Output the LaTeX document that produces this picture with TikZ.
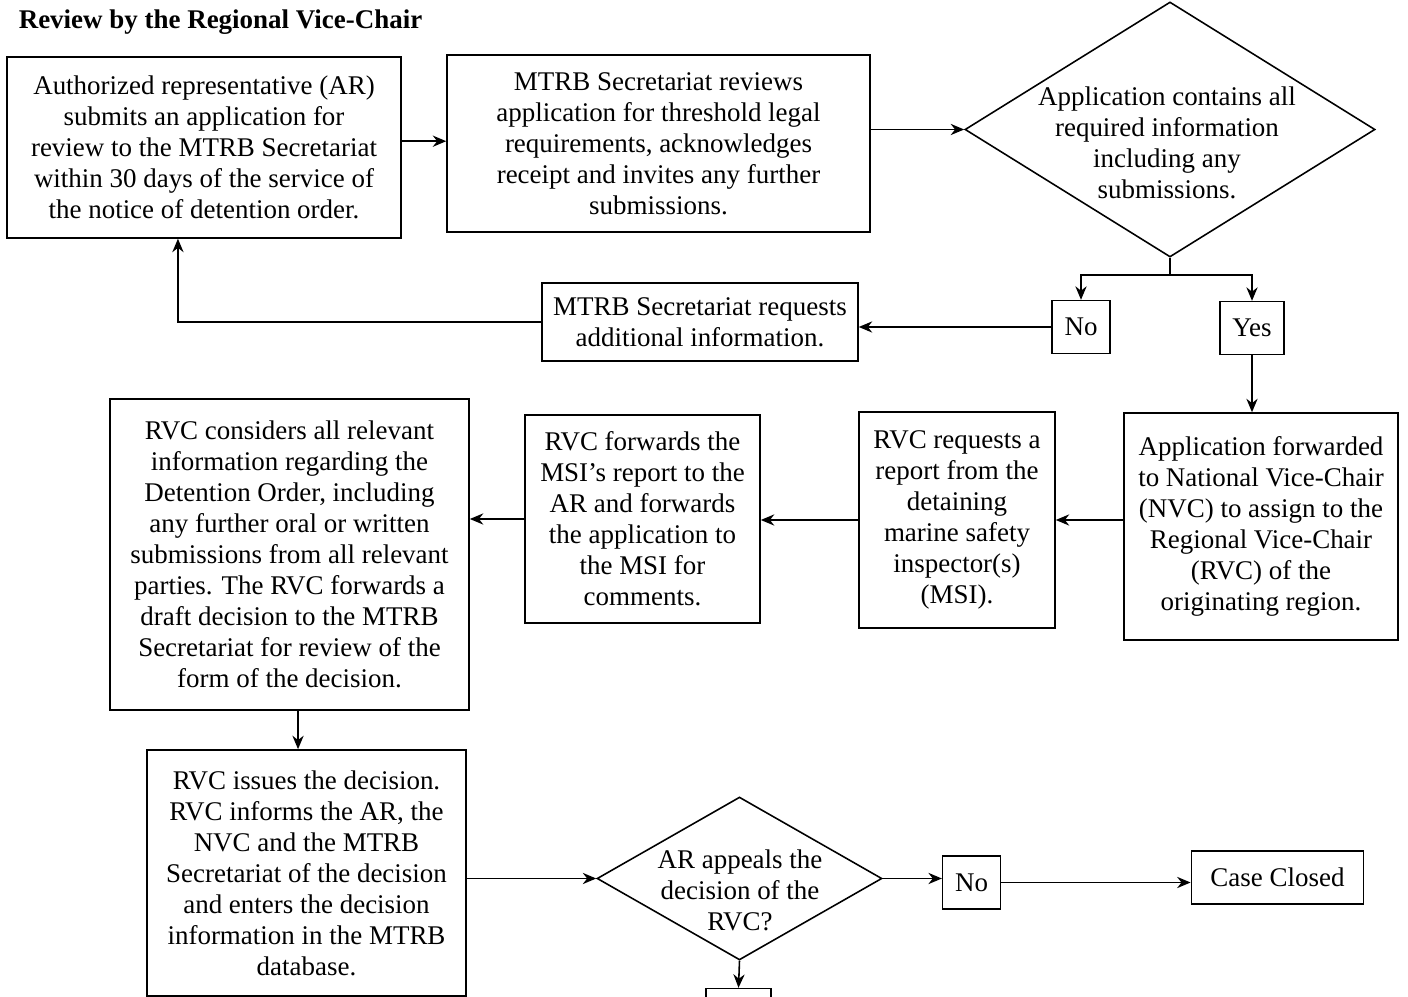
\documentclass[tikz,border=0pt]{standalone}
\usepackage{fontspec}
\setmainfont{Liberation Serif}
\usetikzlibrary{shapes.geometric,arrows.meta}

\begin{document}
\fontsize{12}{13.8}\selectfont
\begin{tikzpicture}[x=0.445pt,y=-0.445pt,align=center,->,>={Stealth[length=6pt,width=5pt]},line width=0.7pt]
	\tikzstyle{stepbox}=[draw,rectangle,inner sep=0pt,font=\fontsize{12}{13.8}\selectfont]
	\tikzstyle{decision}=[draw,diamond,inner sep=0pt]
	\tikzstyle{answer}=[draw,rectangle,inner xsep=5.5pt,minimum height=23.5pt,font=\fontsize{12}{13.8}\selectfont]
	\tikzstyle{plain}=[font=\fontsize{12}{13.8}\selectfont]

	\useasboundingbox (0,0) rectangle (1408,997);

	\node[anchor=west,inner sep=0pt,font=\fontsize{12}{13.8}\selectfont\bfseries](title) at (18,22){Review by the Regional Vice-Chair};

	\node[stepbox,minimum width=175.3pt,minimum height=80.5pt](submit) at (204,147.5){Authorized representative (AR)\\submits an application for\\review to the MTRB Secretariat\\within 30 days of the service of\\the notice of detention order.};
	\node[stepbox,minimum width=188.2pt,minimum height=78.8pt](secretariat_review) at (658.5,143.5){MTRB Secretariat reviews\\application for threshold legal\\requirements, acknowledges\\receipt and invites any further\\submissions.};

	\node[decision,minimum width=182.5pt,minimum height=113.5pt](complete) at (1170,129.5){};
	\node[plain](complete_text) at (1167,143){Application contains all\\required information\\including any\\submissions.};

	\node[answer](complete_no) at (1081,327){No};
	\node[answer](complete_yes) at (1252,328){Yes};

	\node[stepbox,minimum width=140.6pt,minimum height=34.7pt](request_info) at (700,322){MTRB Secretariat requests\\additional information.};

	\node[stepbox,minimum width=121.9pt,minimum height=101pt](forward_nvc) at (1261,526.5){Application forwarded\\to National Vice-Chair\\(NVC) to assign to the\\Regional Vice-Chair\\(RVC) of the\\originating region.};
	\node[stepbox,minimum width=87.2pt,minimum height=96.1pt](request_report) at (957,520){RVC requests a\\report from the\\detaining\\marine safety\\inspector(s)\\(MSI).};
	\node[stepbox,minimum width=104.6pt,minimum height=92.6pt](forward_report) at (642.5,519){RVC forwards the\\MSI's report to the\\AR and forwards\\the application to\\the MSI for\\comments.};
	\node[stepbox,minimum width=159.8pt,minimum height=138.4pt](consider) at (289.5,554.5){RVC considers all relevant\\information regarding the\\Detention Order, including\\any further oral or written\\submissions from all relevant\\parties. The RVC forwards a\\draft decision to the MTRB\\Secretariat for review of the\\form of the decision.};
	\node[stepbox,minimum width=142pt,minimum height=109.5pt](issue) at (306.5,873){RVC issues the decision.\\RVC informs the AR, the\\NVC and the MTRB\\Secretariat of the decision\\and enters the decision\\information in the MTRB\\database.};

	\node[decision,minimum width=126.8pt,minimum height=72.5pt](appeal) at (739.5,878.5){};
	\node[plain](appeal_text) at (740,890){AR appeals the\\decision of the\\RVC?};

	\node[answer](appeal_no) at (971.5,882.5){No};
	\node[answer,inner xsep=8.5pt](closed) at (1277.5,877.5){Case Closed};
	\node[answer,minimum width=28.9pt](appeal_yes) at (738.5,1015){};

	\draw([yshift=2.8pt]submit.east) -- ([yshift=2.8pt]submit.east -| secretariat_review.west);
	\draw(complete.west -| secretariat_review.east) -- (complete.west);

	\draw[-](complete.south) -- ++(0,17) coordinate(split);
	\draw(split) -| (complete_no.north);
	\draw(split) -| (complete_yes.north);

	\draw(complete_no.west) -- (complete_no.west -| request_info.east);
	\draw(request_info.west) -| ([xshift=-11.6pt]submit.south);

	\draw(complete_yes.south) -- (complete_yes.south |- forward_nvc.north);
	\draw(request_report.east -| forward_nvc.west) -- (request_report.east);
	\draw(request_report.west) -- (request_report.west -| forward_report.east);
	\draw(forward_report.west) -- (forward_report.west -| consider.east);
	\draw([xshift=3.8pt]consider.south) -- ([xshift=3.8pt]consider.south |- issue.north);

	\draw(appeal.west -| issue.east) -- (appeal.west);
	\draw(appeal.east) -- (appeal.east -| appeal_no.west);
	\draw(appeal_no.east) -- (appeal_no.east -| closed.west);
	\draw(appeal.south) -- (appeal_yes.north);
\end{tikzpicture}
\end{document}
